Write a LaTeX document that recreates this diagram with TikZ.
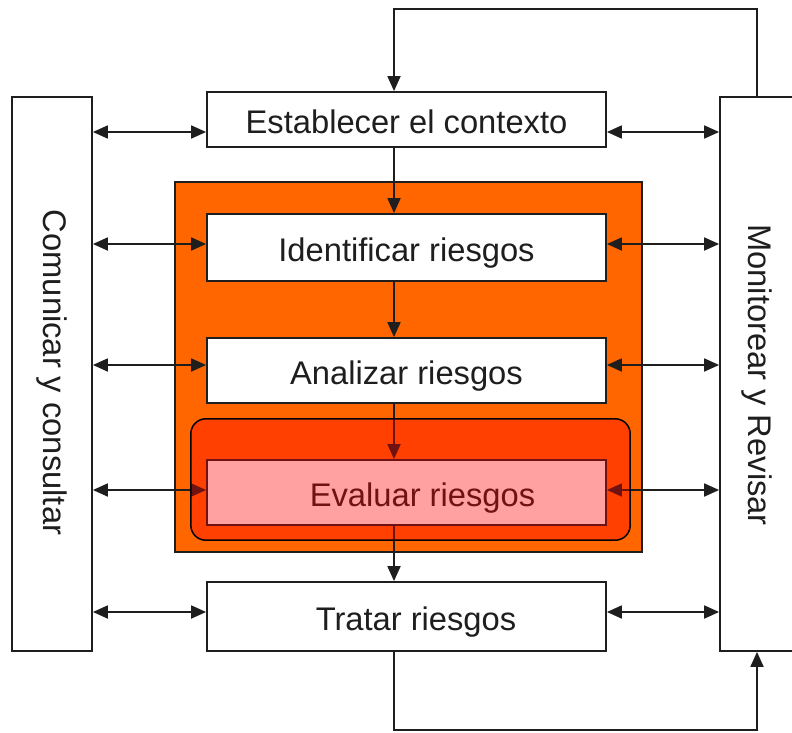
\documentclass[tikz,border=0pt]{standalone}
\usepackage{fontspec}
\setmainfont{Liberation Sans}
\usetikzlibrary{arrows.meta}
\definecolor{ink}{HTML}{1E1E1E}
\definecolor{orng}{HTML}{FF6600}
\begin{document}
\begin{tikzpicture}[x=1pt,y=-1pt,
  txt/.style={font=\fontsize{32.7}{39}\selectfont, text=ink},
  box/.style={txt, draw=ink, line width=1.8pt, fill=white, inner sep=0pt,
    text height=27pt, text depth=0pt},
  wbox/.style={box, minimum width=399pt},
  conn/.style={draw=ink, line width=1.8pt, -{Triangle[length=15pt,width=13pt]}},
  dconn/.style={draw=ink, line width=1.8pt,
    {Triangle[length=15pt,width=13pt]}-{Triangle[length=15pt,width=13pt]}},
  vlabel/.style={txt, rotate=-90, inner sep=0pt}]
\useasboundingbox (0,0) rectangle (792,733);
\clip (0,0) rectangle (792,733);
\fill[white] (0,0) rectangle (792,733);

% side boxes
\node[box, minimum width=80pt, minimum height=554pt] (com) at (52,374) {};
\node[box, minimum width=110pt, minimum height=554pt] (mon) at (775,374) {};
\node[vlabel] (comt) at (52,372.5) {Comunicar y consultar};
\node[vlabel] (mont) at (757,375) {Monitorear y Revisar};

% orange region
\node[draw=ink, line width=1.2pt, fill=orng, inner sep=0pt,
  minimum width=467pt, minimum height=370pt] (org) at (408.5,367) {};

% process boxes
\node[wbox, minimum height=55pt] (est) at (406.5,119.5) {Establecer el contexto};
\node[wbox, minimum height=67pt] (idr) at (406.5,247.5) {Identificar riesgos};
\node[wbox, minimum height=65pt] (ana) at (406.5,370.5) {Analizar riesgos};
\node[wbox, minimum height=65pt] (eva) at (406.5,492.5) {\hspace*{32pt}Evaluar riesgos};
\node[wbox, minimum height=69pt] (tra) at (406.5,616.5) {\hspace*{19pt}Tratar riesgos};

% helper coordinates
\coordinate (vx) at (394,0);
\coordinate (a1) at (0,132);
\coordinate (a2) at (0,244);
\coordinate (a3) at (0,365);
\coordinate (a4) at (0,490);
\coordinate (a5) at (0,612);
\coordinate (tl) at (394,9);
\coordinate (tr) at (757,9);
\coordinate (bl) at (394,730);
\coordinate (br) at (757,730);

% horizontal double arrows
\foreach \b/\a in {est/a1, idr/a2, ana/a3, eva/a4, tra/a5}{
  \draw[dconn] (com.east |- \a) -- (\b.west |- \a);
  \draw[dconn] (\b.east |- \a) -- (mon.west |- \a);
}

% vertical flow
\draw[conn] (est.south -| vx) -- (idr.north -| vx);
\draw[conn] (idr.south -| vx) -- (ana.north -| vx);
\draw[conn] (ana.south -| vx) -- (eva.north -| vx);
\draw[conn] (eva.south -| vx) -- (tra.north -| vx);

% feedback loops
\draw[conn] (mon.north -| tr) -- (tr) -- (tl) -- (est.north -| tl);
\draw[conn] (tra.south -| bl) -- (bl) -- (br) -- (mon.south -| br);

% highlight overlay
\node[fill=red, fill opacity=0.37, rounded corners=15pt, inner sep=0pt,
  minimum width=439pt, minimum height=121pt] (hl) at (410.5,479.5) {};
\draw[black, line width=1.5pt, rounded corners=15pt]
  (hl.north west) rectangle (hl.south east);
\end{tikzpicture}
\end{document}
